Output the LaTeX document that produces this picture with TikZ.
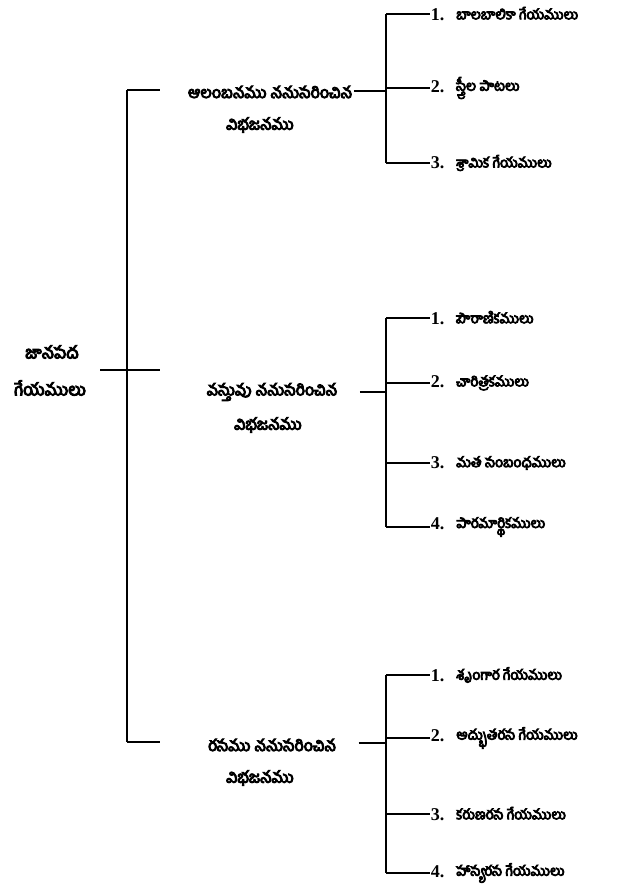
\documentclass[tikz,border=0pt]{standalone}
\usepackage{fontspec}
\newfontfamily\telugu[Script=Telugu,FakeBold=6]{Hind Guntur}
\newfontfamily\anka{Liberation Serif}
\newcommand{\vibhaga}[2]{\raisebox{-1.5pt}{\anka\bfseries\fontsize{18}{20}\selectfont #1.}\hspace{12pt}{\telugu #2}}

\begin{document}
\begin{tikzpicture}[x=1pt,y=-1pt,line width=1.6pt,
    tel/.style={inner sep=0pt,font=\fontsize{16}{18}\selectfont\telugu},
    geyam/.style={anchor=west,inner sep=0pt,font=\fontsize{14}{18}\selectfont}]
    \useasboundingbox (0,0) rectangle (622,892);

    % root of the tree
    \node[tel,font=\fontsize{17}{18}\selectfont\telugu] (root) at (52,352) {జానపద};
    \node[tel,font=\fontsize{17}{18}\selectfont\telugu] (rootb) at (50,388) {గేయములు};
    \coordinate (r) at (100,370);
    \coordinate (j1) at (127,90);
    \coordinate (j2) at (127,370);
    \coordinate (j3) at (127,742);
    \draw (j1) -- (j3); % main spine
    \draw (r) -- (j2);
    \draw (j1) -- ++(33,0);
    \draw (j2) -- ++(33,0);
    \draw (j3) -- ++(33,0);

    % first branch
    \node[tel] (b1) at (270,92) {ఆలంబనము ననుసరించిన};
    \node[tel] (b1b) at (260,125) {విభజనము};
    \coordinate (k1) at (386,14);
    \coordinate (k1m) at (386,91);
    \coordinate (k1e) at (386,163);
    \draw (k1) -- (k1e);
    \draw ([xshift=1pt]b1.east |- k1m) -- (k1m);
    \node[geyam] (g11) at (430,14) {\vibhaga{1}{బాలబాలికా గేయములు}};
    \node[geyam] (g12) at (430,88) {\vibhaga{2}{స్త్రీల పాటలు}};
    \node[geyam] (g13) at (430,163) {\vibhaga{3}{శ్రామిక గేయములు}};
    \foreach \g in {g11,g12,g13} \draw (k1 |- \g.west) -- (\g.west);

    % second branch
    \node[tel] (b2) at (272,392) {వస్తువు ననుసరించిన};
    \node[tel] (b2b) at (268,425) {విభజనము};
    \coordinate (k2) at (386,318);
    \coordinate (k2m) at (386,392);
    \coordinate (k2e) at (386,527);
    \draw (k2) -- (k2e);
    \draw ([xshift=22pt]b2.east |- k2m) -- (k2m);
    \node[geyam] (g21) at (430,318) {\vibhaga{1}{పౌరాణికములు}};
    \node[geyam] (g22) at (430,383) {\vibhaga{2}{చారిత్రకములు}};
    \node[geyam] (g23) at (430,463) {\vibhaga{3}{మత సంబంధములు}};
    \node[geyam] (g24) at (430,527) {\vibhaga{4}{పారమార్థికములు}};
    \foreach \g in {g21,g22,g23,g24} \draw (k2 |- \g.west) -- (\g.west);

    % third branch
    \node[tel] (b3) at (272,745) {రసము ననుసరించిన};
    \node[tel] (b3b) at (260,778) {విభజనము};
    \coordinate (k3) at (386,675);
    \coordinate (k3m) at (386,743);
    \coordinate (k3e) at (386,873);
    \draw (k3) -- (k3e);
    \draw ([xshift=22pt]b3.east |- k3m) -- (k3m);
    \node[geyam] (g31) at (430,675) {\vibhaga{1}{శృంగార గేయములు}};
    \node[geyam] (g32) at (430,738) {\vibhaga{2}{అద్భుతరస గేయములు}};
    \node[geyam] (g33) at (430,814) {\vibhaga{3}{కరుణరస గేయములు}};
    \node[geyam] (g34) at (430,873) {\vibhaga{4}{హాస్యరస గేయములు}};
    \foreach \g in {g31,g32,g33,g34} \draw (k3 |- \g.west) -- (\g.west);
\end{tikzpicture}
\end{document}
